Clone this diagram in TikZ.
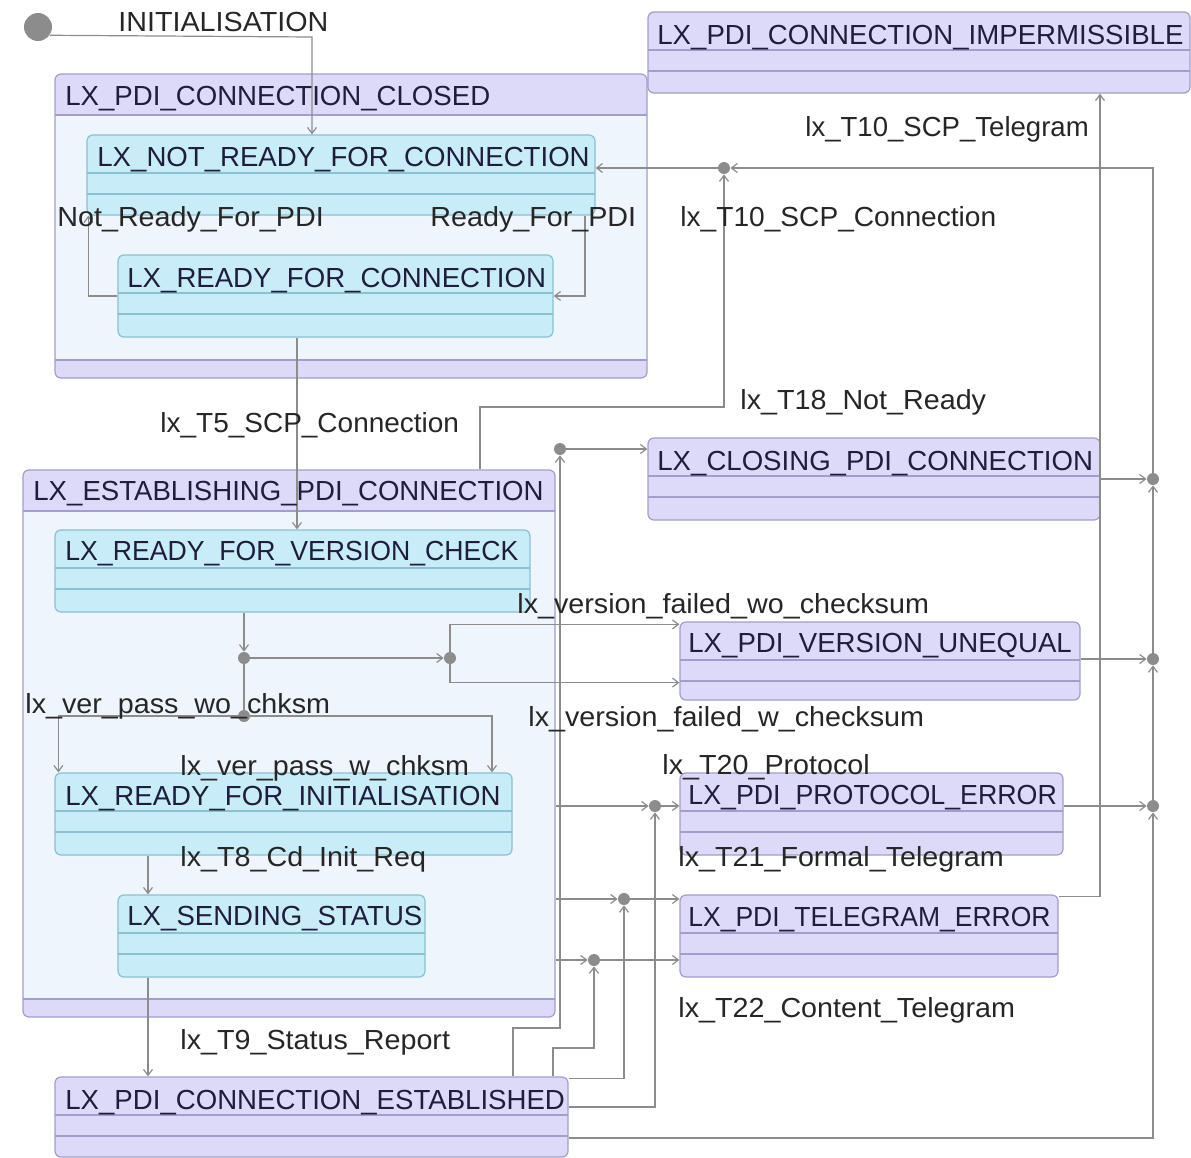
\documentclass[tikz,border=0pt]{standalone}
\usepackage{fontspec}
\setmainfont{Liberation Sans}
\newfontfamily\lblfont[FakeStretch=1.04]{Liberation Sans}
\usetikzlibrary{arrows.meta,fit,calc}
\definecolor{lavfill}{HTML}{DCDAF8}
\definecolor{lavborder}{HTML}{A29ECB}
\definecolor{cyanfill}{HTML}{C8EDF8}
\definecolor{cyanborder}{HTML}{8CBFCF}
\definecolor{bodyfill}{HTML}{EEF5FC}
\definecolor{txtcol}{HTML}{1E1E3C}
\definecolor{linecol}{HTML}{8C8C8C}
\begin{document}
\begin{tikzpicture}[x=0.5pt,y=-0.5pt,
  font=\fontsize{13.8}{16}\selectfont,
  simple/.style={draw=#1border, fill=#1fill, rounded corners=3pt, inner sep=0pt, line width=0.6pt,
    path picture={\draw[#1border,line width=0.6pt,sharp corners]
      ([yshift=-19pt]path picture bounding box.north west) -- ([yshift=-19pt]path picture bounding box.north east)
      ([yshift=-29.5pt]path picture bounding box.north west) -- ([yshift=-29.5pt]path picture bounding box.north east);}},
  comp/.style={draw=lavborder, fill=lavfill, rounded corners=3pt, inner sep=0pt, line width=0.6pt,
    path picture={
      \fill[bodyfill,sharp corners] ([yshift=-20.5pt]path picture bounding box.north west) rectangle ([yshift=9pt]path picture bounding box.south east);
      \draw[lavborder,line width=0.6pt,sharp corners]
      ([yshift=-20.5pt]path picture bounding box.north west) -- ([yshift=-20.5pt]path picture bounding box.north east)
      ([yshift=9pt]path picture bounding box.south west) -- ([yshift=9pt]path picture bounding box.south east);}},
  title/.style={anchor=west, inner sep=0pt, text height=9.9pt, text depth=0pt, text=txtcol},
  lbl/.style={anchor=west, inner sep=0pt, text height=9.9pt, text depth=0pt, text=black!85, font=\fontsize{13.8}{16}\lblfont},
  conn/.style={draw=linecol, line width=0.6pt, -{Straight Barb[length=3pt,width=4.5pt]}},
  plain/.style={draw=linecol, line width=0.6pt},
  junc/.style={circle, fill=linecol, inner sep=0pt, minimum size=6pt},
]
\useasboundingbox (0,0) rectangle (1191,1158);

% composite states
\node[comp, fit={(55,74) (647,378)}] (closed) {};
\node[comp, fit={(23,470) (555,1017)}] (est) {};

% simple states
\node[simple=lav, fit={(648,12) (1190,93)}] (imp) {};
\node[simple=cyan, fit={(87,135) (595,215)}] (nr) {};
\node[simple=cyan, fit={(118,255) (553,337)}] (rc) {};
\node[simple=cyan, fit={(55,530) (530,612)}] (rvc) {};
\node[simple=cyan, fit={(55,773) (512,855)}] (rfi) {};
\node[simple=cyan, fit={(118,895) (425,977)}] (ss) {};
\node[simple=lav, fit={(55,1077) (568,1157)}] (ced) {};
\node[simple=lav, fit={(648,438) (1100,520)}] (cpc) {};
\node[simple=lav, fit={(680,622) (1080,700)}] (pvu) {};
\node[simple=lav, fit={(680,773) (1063,855)}] (ppe) {};
\node[simple=lav, fit={(680,895) (1058,977)}] (pte) {};

% initial and junctions
\node[circle, fill=linecol, inner sep=0pt, minimum size=14pt] (init) at (38,27) {};
\node[junc] (j1) at (724,168) {};
\node[junc] (jc) at (560,449) {};
\node[junc] (jv1) at (244,658) {};
\node[junc] (jv2) at (450,658) {};
\node[junc] (jv3) at (244,716) {};
\node[junc] (jpe) at (655,806) {};
\node[junc] (jte1) at (624,899) {};
\node[junc] (jte2) at (594,960) {};
\node[junc] (jr1) at (1153,479) {};
\node[junc] (jr2) at (1153,659) {};
\node[junc] (jr3) at (1153,806) {};

% connectors
\draw[conn] (init.-35) -- (312,37) -- (nr.north -| 312,0);
\draw[conn] (nr.south -| 585,0) |- (rc.east);
\draw[conn] (rc.west) -| ([xshift=1pt]nr.south west);
\draw[conn] (rc.south -| 297,0) -- (rvc.north -| 297,0);
\draw[conn] (rvc.south -| 244,0) -- (jv1);
\draw[conn] (jv1) -- (jv2);
\draw[conn] (jv2) |- ([yshift=-1.5pt]pvu.north west);
\draw[conn] (jv2) |- ([yshift=9pt]pvu.south west);
\draw[plain] (jv1) -- (jv3);
\draw[conn] (jv3) -| ([xshift=2pt]rfi.north west);
\draw[conn] (jv3) -| (rfi.north -| 492,0);
\draw[conn] (rfi.south -| 148,0) -- (ss.north -| 148,0);
\draw[conn] (ss.south -| 148,0) -- (ced.north -| 148,0);
\draw[conn] (est.north -| 480,0) |- (724,407) -- (j1);
\draw[conn] (j1) -- (j1 -| nr.east);
\draw[conn] (jr1) |- (j1);
\draw[conn] (cpc.east |- jr1) -- (jr1);
\draw[conn] (jr2) -- (jr1);
\draw[conn] (pvu.east |- jr2) -- (jr2);
\draw[conn] (jr3) -- (jr2);
\draw[conn] (ppe.east |- jr3) -- (jr3);
\draw[conn] (ced.east |- 0,1138) -| (jr3);
\draw[conn] ([yshift=-1pt]pte.north east) -| (imp.south -| 1100,0);
\draw[conn] (est.east |- jpe) -- (jpe);
\draw[conn] (jpe) -- (jpe -| ppe.west);
\draw[conn] (ced.east |- 0,1107) -| (jpe);
\draw[conn] (est.east |- jte1) -- (jte1);
\draw[conn] (jte1) -- (jte1 -| pte.west);
\draw[conn] ([yshift=-1pt]ced.north east) -| (jte1);
\draw[conn] (est.east |- jte2) -- (jte2);
\draw[conn] (jte2) -- (jte2 -| pte.west);
\draw[conn] (ced.north -| 553,0) |- (594,1048) -- (jte2);
\draw[conn] (ced.north -| 513,0) |- (560,1028) -- (jc);
\draw[conn] (jc) -- (jc -| cpc.west);

% state titles
\node[title] (t-imp) at (657,35) {LX\_PDI\_CONNECTION\_IMPERMISSIBLE};
\node[title] (t-closed) at (65,96) {LX\_PDI\_CONNECTION\_CLOSED};
\node[title] (t-nr) at (97,157) {LX\_NOT\_READY\_FOR\_CONNECTION};
\node[title] (t-rc) at (127,278) {LX\_READY\_FOR\_CONNECTION};
\node[title] (t-est) at (33,491) {LX\_ESTABLISHING\_PDI\_CONNECTION};
\node[title] (t-rvc) at (65,551) {\scalebox{0.965}[1]{LX\_READY\_FOR\_VERSION\_CHECK}};
\node[title] (t-rfi) at (65,796) {LX\_READY\_FOR\_INITIALISATION};
\node[title] (t-ss) at (127,916) {LX\_SENDING\_STATUS};
\node[title] (t-ced) at (65,1100) {LX\_PDI\_CONNECTION\_ESTABLISHED};
\node[title] (t-cpc) at (657,461) {LX\_CLOSING\_PDI\_CONNECTION};
\node[title] (t-pvu) at (688,643) {LX\_PDI\_VERSION\_UNEQUAL};
\node[title] (t-ppe) at (688,795) {\scalebox{0.97}[1]{LX\_PDI\_PROTOCOL\_ERROR}};
\node[title] (t-pte) at (688,917) {\scalebox{0.96}[1]{LX\_PDI\_TELEGRAM\_ERROR}};

% transition labels
\node[lbl] (l-init) at (118,22) {INITIALISATION};
\node[lbl] (l-nrp) at (57,217) {Not\_Ready\_For\_PDI};
\node[lbl] (l-rp) at (430,217) {Ready\_For\_PDI};
\node[lbl] (l-t10t) at (805,127) {\scalebox{0.96}[1]{lx\_T10\_SCP\_Telegram}};
\node[lbl] (l-t10c) at (680,217) {\scalebox{0.98}[1]{lx\_T10\_SCP\_Connection}};
\node[lbl] (l-t18) at (740,400) {lx\_T18\_Not\_Ready};
\node[lbl] (l-t5) at (160,423) {\scalebox{0.975}[1]{lx\_T5\_SCP\_Connection}};
\node[lbl] (l-vfwo) at (517,604) {lx\_version\_failed\_wo\_checksum};
\node[lbl] (l-vpwo) at (25,704) {lx\_ver\_pass\_wo\_chksm};
\node[lbl] (l-vfw) at (528,717) {lx\_version\_failed\_w\_checksum};
\node[lbl] (l-vpw) at (180,766) {lx\_ver\_pass\_w\_chksm};
\node[lbl] (l-t20) at (662,765) {lx\_T20\_Protocol};
\node[lbl] (l-t8) at (180,857) {lx\_T8\_Cd\_Init\_Req};
\node[lbl] (l-t21) at (678,857) {lx\_T21\_Formal\_Telegram};
\node[lbl] (l-t22) at (678,1008) {lx\_T22\_Content\_Telegram};
\node[lbl] (l-t9) at (180,1040) {lx\_T9\_Status\_Report};
\end{tikzpicture}
\end{document}
